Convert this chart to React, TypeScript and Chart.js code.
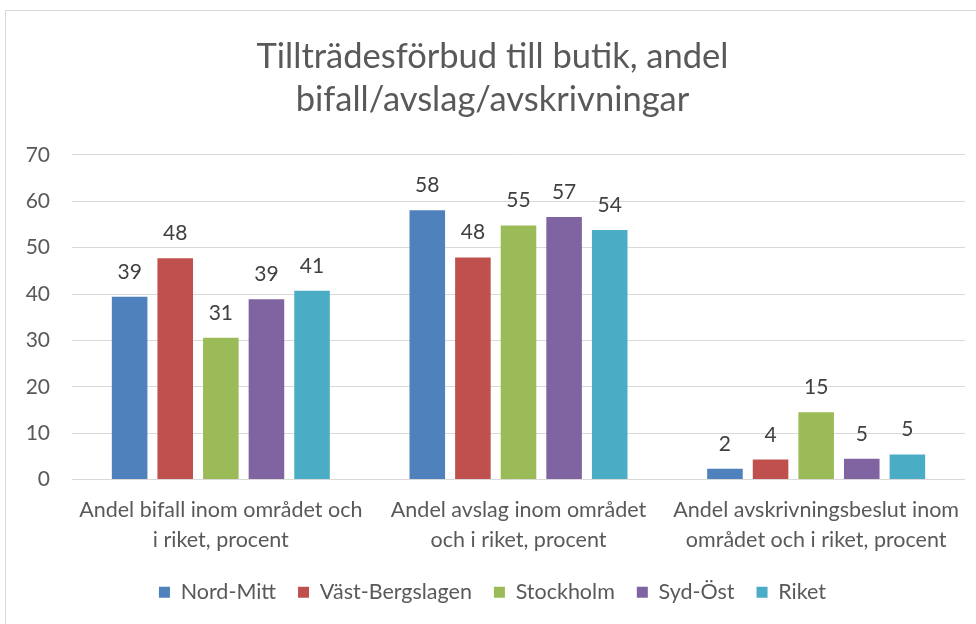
import React, { useEffect, useRef } from "react";
import { Chart, registerables } from "chart.js";

Chart.register(...registerables);

const titleLines = ["Tillträdesförbud till butik, andel", "bifall/avslag/avskrivningar"];
const categories = [
  ["Andel bifall inom området och", "i riket, procent"],
  ["Andel avslag inom området", "och i riket, procent"],
  ["Andel avskrivningsbeslut inom", "området och i riket, procent"],
];
const seriesNames = ["Nord-Mitt", "Väst-Bergslagen", "Stockholm", "Syd-Öst", "Riket"];
const nordMitt = [39.4, 58.1, 2.3];
const vastBergslagen = [47.7, 47.9, 4.3];
const stockholm = [30.6, 54.8, 14.5];
const sydOst = [38.9, 56.6, 4.5];
const riket = [40.7, 53.8, 5.4];
const seriesColors = ["#4F81BD", "#C0504D", "#9BBB59", "#8064A2", "#4BACC6"];
const yTicks = [0, 10, 20, 30, 40, 50, 60, 70];

const FONT = "Lato, 'Open Sans', sans-serif";
const TEXT = "#595959";

const dataLabels = {
  id: "dataLabels",
  afterDatasetsDraw(chart: any) {
    const ctx = chart.ctx;
    ctx.save();
    ctx.font = `21px ${FONT}`;
    ctx.fillStyle = "#404040";
    ctx.textAlign = "center";
    ctx.textBaseline = "alphabetic";
    chart.data.datasets.forEach((ds: any, i: number) => {
      const meta = chart.getDatasetMeta(i);
      meta.data.forEach((el: any, j: number) => {
        ctx.fillText(String(Math.round(ds.data[j])), el.x, el.y - 18);
      });
    });
    ctx.restore();
  },
};

export default function App() {
  const ref = useRef<HTMLCanvasElement>(null);
  useEffect(() => {
    const allData = [nordMitt, vastBergslagen, stockholm, sydOst, riket];
    const chart = new Chart(ref.current!, {
      type: "bar",
      data: {
        labels: categories,
        datasets: seriesNames.map((name, i) => ({
          label: name,
          data: allData[i],
          backgroundColor: seriesColors[i],
          borderWidth: 0,
          categoryPercentage: 0.766,
          barPercentage: 0.78,
        })),
      },
      options: {
        animation: false,
        responsive: false,
        layout: { padding: { left: 20, right: 11, top: 0, bottom: 11 } },
        plugins: {
          title: {
            display: true,
            text: titleLines,
            color: TEXT,
            font: { family: FONT, size: 34.5, weight: "normal", lineHeight: 1.246 },
            padding: { top: 35, bottom: 34 },
          },
          legend: {
            position: "bottom",
            labels: {
              color: TEXT,
              font: { family: FONT, size: 21.5 },
              boxWidth: 11,
              boxHeight: 11,
              padding: 22,
            },
          },
          tooltip: { enabled: false },
        },
        scales: {
          x: {
            grid: { display: false },
            border: { display: false },
            ticks: {
              color: TEXT,
              font: { family: FONT, size: 21.5, lineHeight: 1.38 },
              maxRotation: 0,
              autoSkip: false,
              padding: 8,
            },
            afterFit(scale: any) {
              scale.height = 80;
            },
          },
          y: {
            min: 0,
            max: 70,
            afterBuildTicks(scale: any) {
              scale.ticks = yTicks.map((v) => ({ value: v }));
            },
            grid: { color: "#D9D9D9", lineWidth: 1, drawTicks: false },
            border: { display: false },
            ticks: {
              color: TEXT,
              font: { family: FONT, size: 21 },
              padding: 22,
            },
            afterFit(scale: any) {
              scale.width = 52;
            },
          },
        },
      },
      plugins: [dataLabels],
    });
    return () => chart.destroy();
  }, []);

  return (
    <div style={{ position: "absolute", left: 0, top: 0, width: 976, height: 624, overflow: "hidden", background: "#fff" }}>
      <div style={{ position: "absolute", left: 5, top: 10, width: 1200, height: 1000, border: "1px solid #D9D9D9" }} />
      <canvas ref={ref} width={976} height={624} style={{ position: "absolute", left: 0, top: 0 }} />
    </div>
  );
}
